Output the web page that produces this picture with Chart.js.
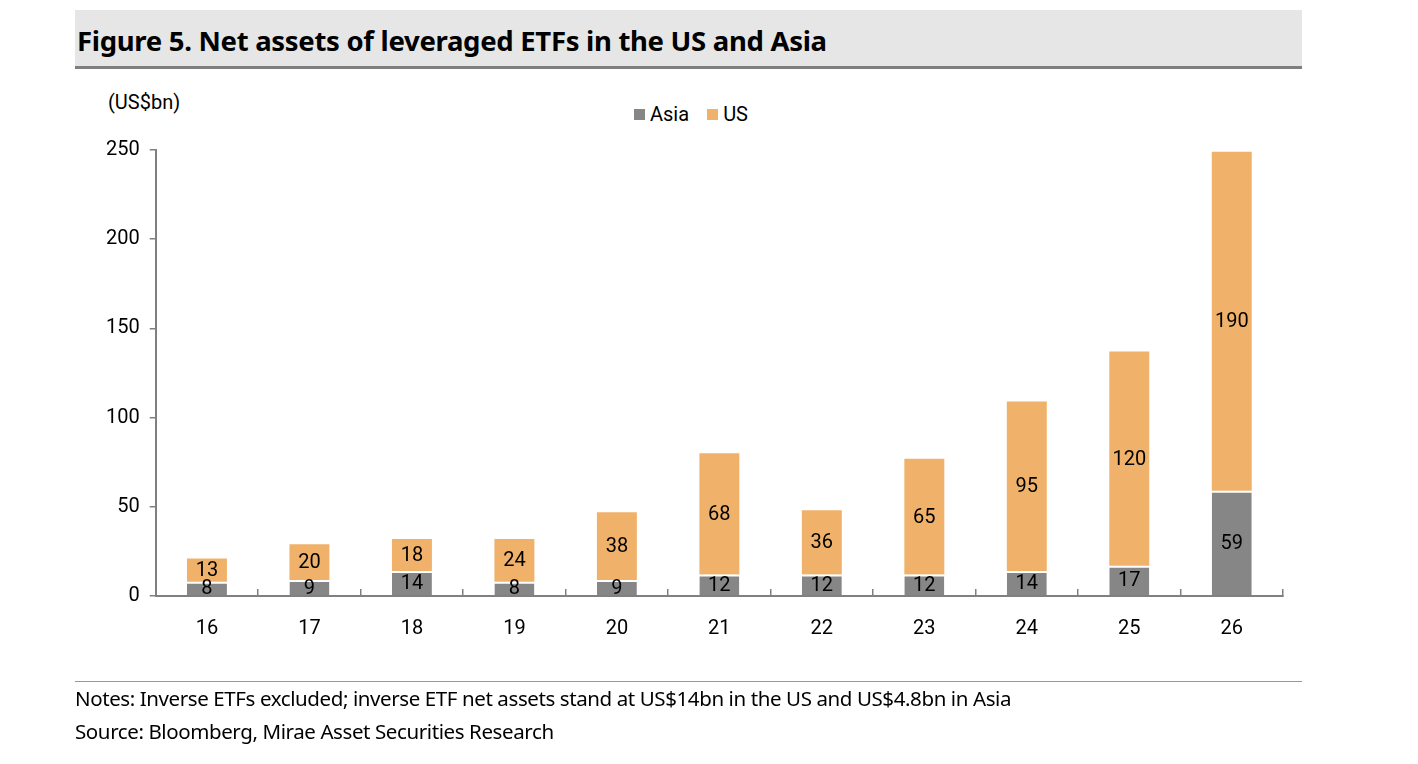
<!DOCTYPE html>
<html><head><meta charset="utf-8">
<script src="https://cdn.jsdelivr.net/npm/chart.js@4/dist/chart.umd.min.js"></script>
<style>
body{margin:0;width:1418px;height:764px;background:#fff;position:relative;overflow:hidden;font-family:'Noto Sans',sans-serif}
#title{position:absolute;left:75px;top:10px;width:1227px;height:56px;background:#e6e6e6;border-bottom:3px solid #7f7f7f;box-sizing:content-box}
#title span{position:absolute;left:2px;top:12px;font-size:27.5px;font-weight:bold;color:#000;letter-spacing:-0.3px}
#unit{position:absolute;left:108px;top:90px;font-family:Roboto,sans-serif;font-size:20px}
#legend{position:absolute;left:634px;top:102px;font-family:Roboto,sans-serif;font-size:20px;display:flex;align-items:center}
#legend i{display:inline-block;width:11px;height:11px;margin-right:5px}
#rule{position:absolute;left:75px;top:681px;width:1227px;border-top:1px solid #999}
.note{position:absolute;left:75px;font-size:20.5px;color:#000;letter-spacing:-0.4px}
canvas{position:absolute;left:0;top:0}
</style></head><body>
<div id="title"><span>Figure 5. Net assets of leveraged ETFs in the US and Asia</span></div>
<div id="unit">(US$bn)</div>
<div id="legend"><i style="background:#868686"></i>Asia<span style="width:18px"></span><i style="background:#F0B26A"></i>US</div>
<div style="position:absolute;left:0;top:0;width:1418px;height:764px"><canvas id="c"></canvas></div>
<div id="rule"></div>
<div class="note" style="top:684px">Notes: Inverse ETFs excluded; inverse ETF net assets stand at US$14bn in the US and US$4.8bn in Asia</div>
<div class="note" style="top:717px">Source: Bloomberg, Mirae Asset Securities Research</div>
<script>
const categories=['16','17','18','19','20','21','22','23','24','25','26'];
const asia=[8,9,14,8,9,12,12,12,14,17,59];
const us=[13,20,18,24,38,68,36,65,95,120,190];
const yTicks=[0,50,100,150,200,250];
const F="Roboto,sans-serif";
const labelPlugin={id:'lbl',afterDatasetsDraw(ch){const c=ch.ctx;c.save();c.font='20px '+F;c.fillStyle='#000';c.textAlign='center';c.textBaseline='middle';
ch.data.datasets.forEach((ds,i)=>{ch.getDatasetMeta(i).data.forEach((b,j)=>{c.fillText(String(ds.data[j]),b.x,(b.y+b.base)/2+1);});});c.restore();}};
new Chart(document.getElementById('c'),{type:'bar',
data:{labels:categories,datasets:[
{label:'Asia',data:asia,backgroundColor:'#868686',borderColor:'#fff',borderWidth:{top:2,left:0,right:0,bottom:0},borderSkipped:false},
{label:'US',data:us,backgroundColor:'#F0B26A',borderWidth:0}]},
options:{responsive:true,maintainAspectRatio:false,animation:false,
layout:{padding:{left:96,right:135,top:150,bottom:95}},
datasets:{bar:{barPercentage:0.39,categoryPercentage:1}},
plugins:{legend:{display:false},tooltip:{enabled:false}},
scales:{
x:{stacked:true,grid:{display:true,drawOnChartArea:false,offset:true,tickLength:-7,color:'#808080',lineWidth:1.5},border:{color:'#808080',width:2},ticks:{color:'#000',font:{family:F,size:20},padding:28}},
y:{stacked:true,min:0,max:250,afterBuildTicks(a){a.ticks=yTicks.map(v=>({value:v}));},grid:{drawOnChartArea:false,tickLength:6,color:'#808080',lineWidth:1.5},border:{color:'#808080',width:2},ticks:{color:'#000',font:{family:F,size:20},padding:10}}
}},plugins:[labelPlugin]});
</script></body></html>
